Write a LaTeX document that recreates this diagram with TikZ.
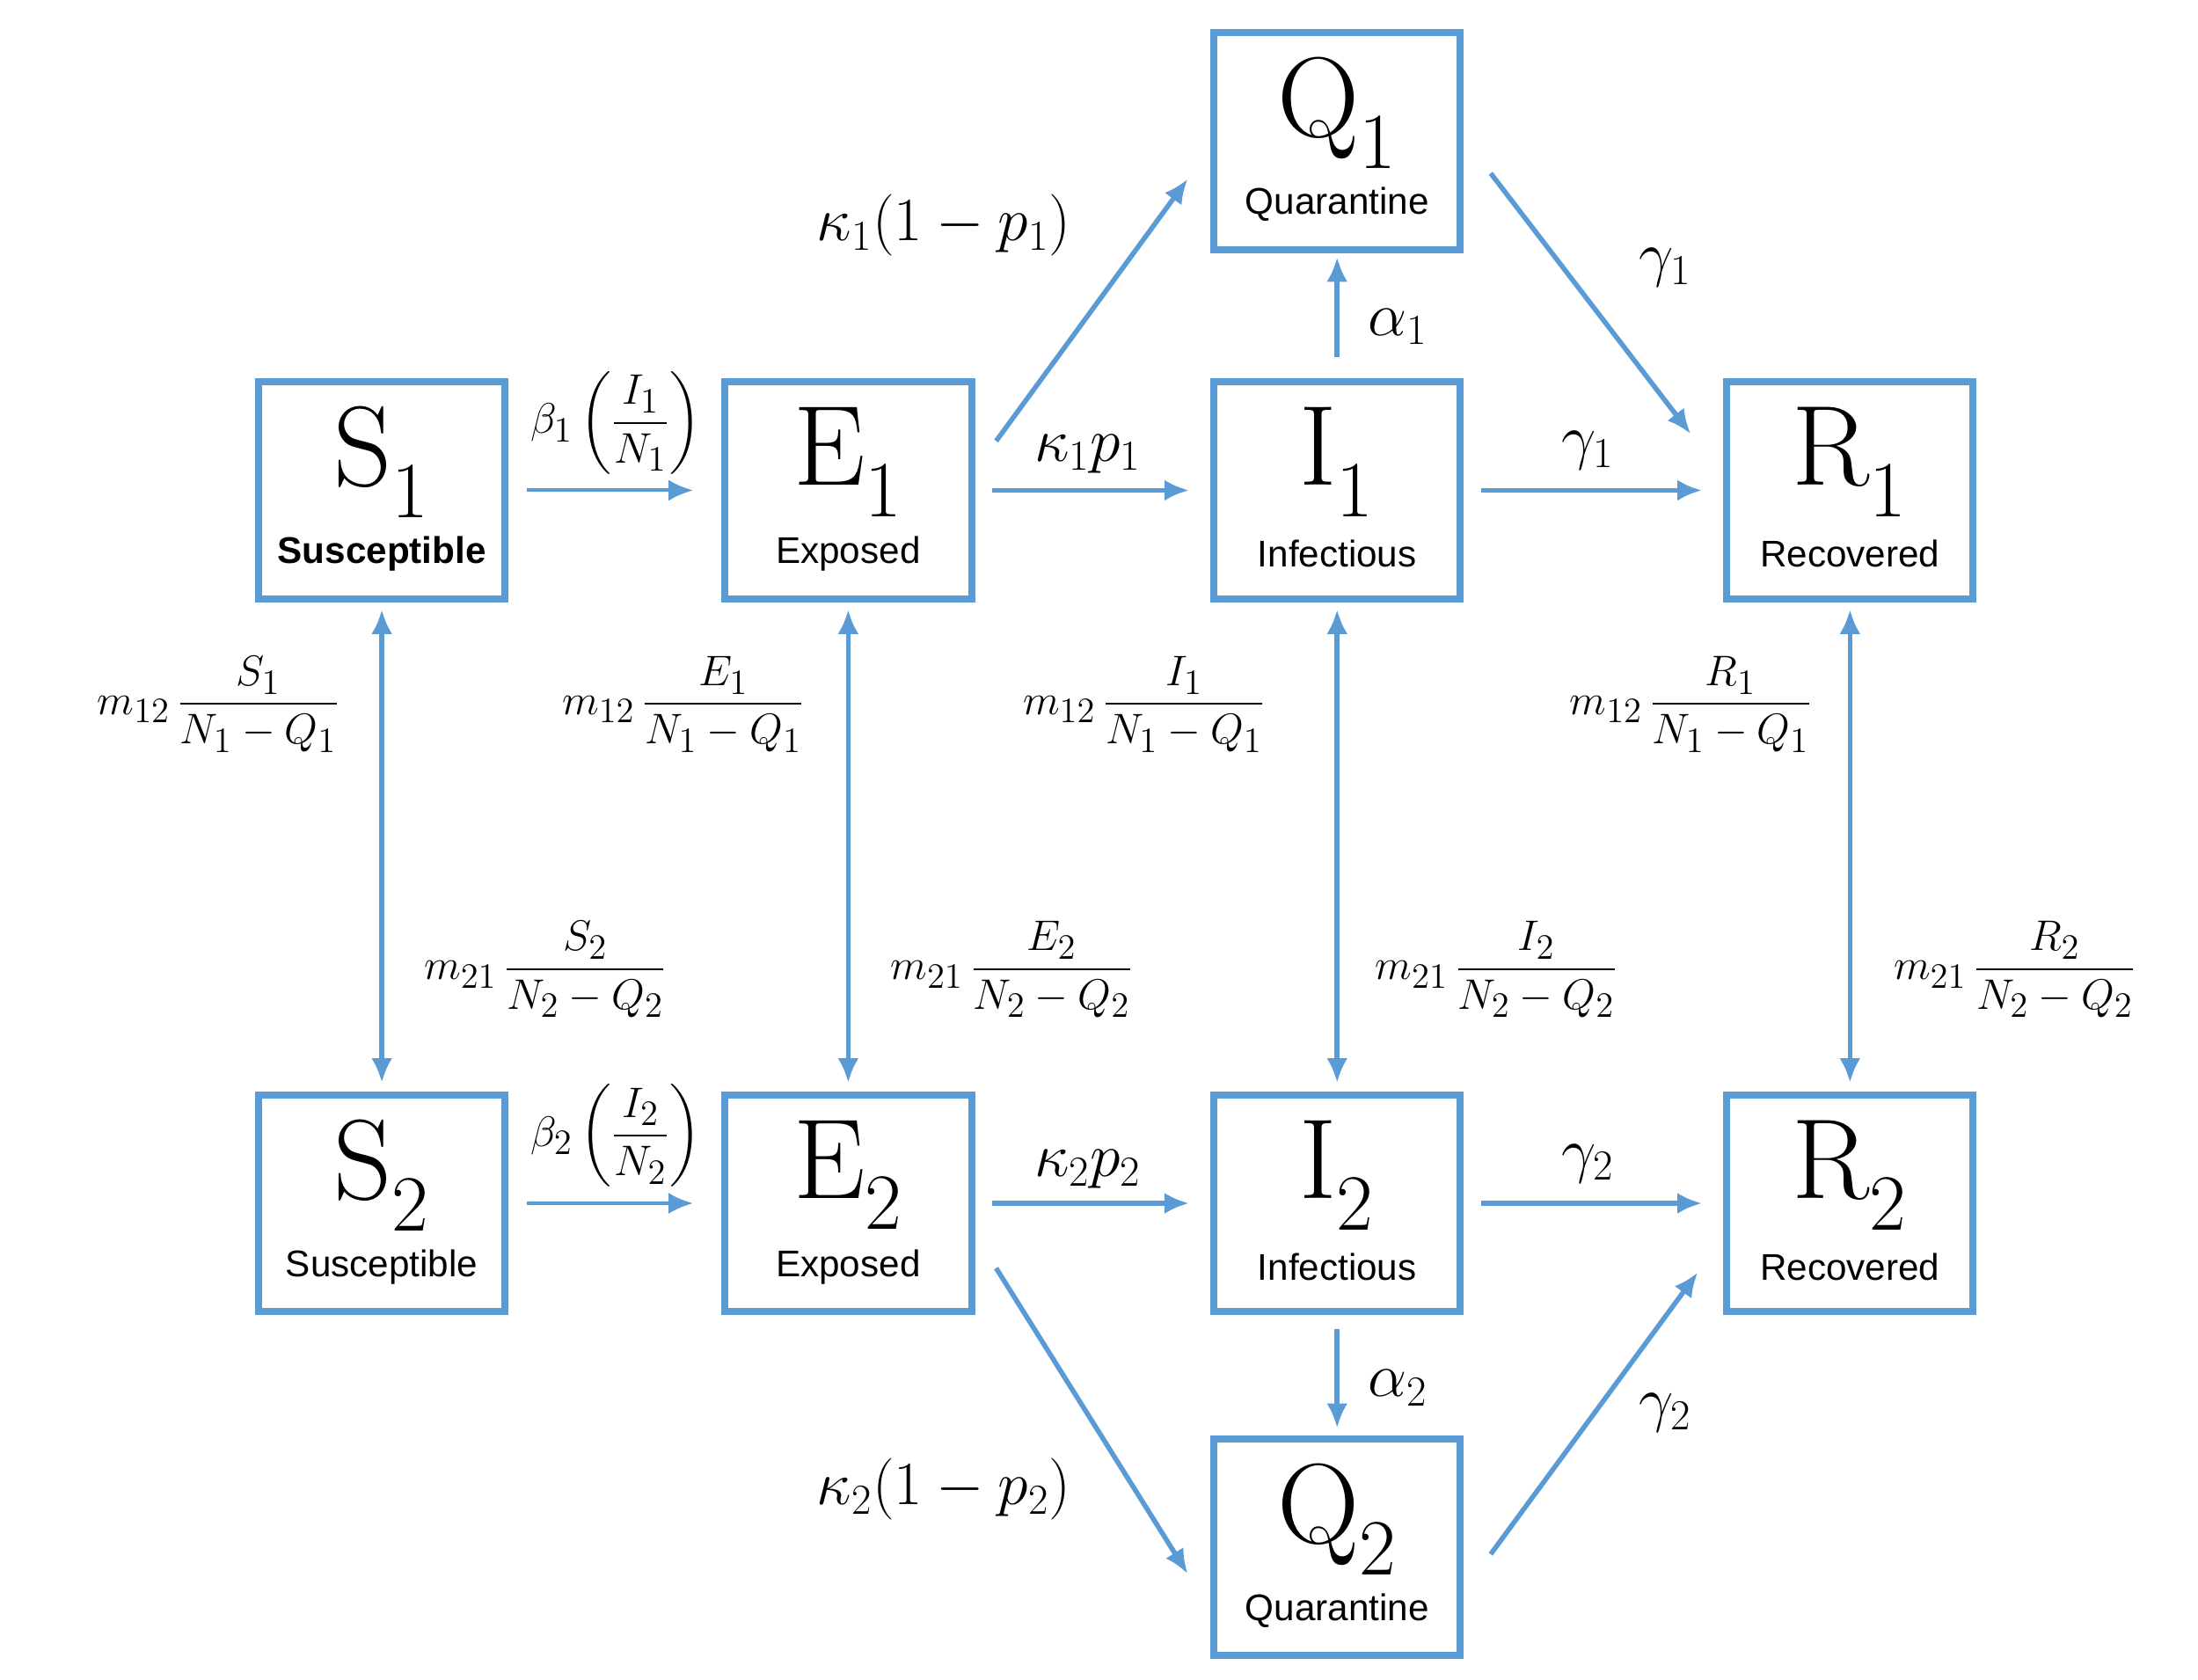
\documentclass[tikz,border=0pt]{standalone}
\usepackage{fontspec}
\usepackage{amsmath}
\newfontfamily\sans{Liberation Sans}
\usetikzlibrary{arrows.meta}
\definecolor{bl}{RGB}{91,155,213}
\begin{document}
\begin{tikzpicture}[x=0.02cm,y=-0.02cm,
 box/.style={draw=bl,line width=0.1cm,minimum width=3.5cm,minimum height=3.08cm,inner sep=0},
 big/.style={font=\fontsize{46}{50}\selectfont},
 sub/.style={font=\sans\fontsize{15}{18}\selectfont},
 lab/.style={font=\fontsize{24}{28}\selectfont},
 frac/.style={font=\fontsize{19}{24}\selectfont},
 arr/.style={draw=bl,line width=0.07cm,-{Latex[length=0.35cm,width=0.3cm]}},
 thin/.style={draw=bl,line width=0.05cm,-{Latex[length=0.35cm,width=0.3cm]}},
 dbl/.style={draw=bl,line width=0.07cm,{Latex[length=0.35cm,width=0.3cm]}-{Latex[length=0.35cm,width=0.3cm]}}]
\useasboundingbox (0,0) rectangle (1560,1192);
\foreach \n/\x/\y in {S1/271/348,E1/602/348,I1/949/348,R1/1313/348,Q1/949/100,S2/271/854,E2/602/854,I2/949/854,R2/1313/854,Q2/949/1098}
  \node[box] (\n) at (\x,\y) {};
\foreach \n/\t/\s in {S1/S_1/{\bfseries Susceptible},E1/E_1/Exposed,I1/I_1/Infectious,R1/R_1/Recovered,Q1/Q_1/Quarantine,S2/S_2/Susceptible,E2/E_2/Exposed,I2/I_2/Infectious,R2/R_2/Recovered,Q2/Q_2/Quarantine}{
  \node[big] (\n t) at ([yshift=0.4cm]\n.center) {$\mathrm{\t}$};
  \node[sub] (\n s) at ([yshift=-0.9cm]\n.center) {\s};
}
% horizontal
\foreach \a/\b in {S1/E1,S2/E2}
  \draw[thin,shorten <=0.26cm,shorten >=0.4cm] (\a) -- (\b);
\foreach \a/\b in {E1/I1,I1/R1,E2/I2,I2/R2}
  \draw[arr,shorten <=0.24cm,shorten >=0.3cm] (\a) -- (\b);
% vertical double
\foreach \a/\b in {S1/S2,E1/E2,I1/I2,R1/R2}
  \draw[dbl,shorten <=0.1cm,shorten >=0.12cm] (\a) -- (\b);
\draw[arr,shorten <=0.3cm,shorten >=0.06cm] (I1) -- (Q1);
\draw[arr,shorten <=0.2cm,shorten >=0.1cm] (I2) -- (Q2);
% diagonals
\coordinate (a1) at (707,313); \coordinate (a2) at (843,127);
\coordinate (b1) at (1058,123); \coordinate (b2) at (1200,308);
\coordinate (c1) at (707,900); \coordinate (c2) at (843,1117);
\coordinate (d1) at (1058,1103); \coordinate (d2) at (1205,903);
\draw[arr] (a1) -- (a2); \draw[arr] (b1) -- (b2);
\draw[arr] (c1) -- (c2); \draw[arr] (d1) -- (d2);
% labels
\node[frac] (l1) at (437,300) {$\beta_1\left(\dfrac{I_1}{N_1}\right)$};
\node[frac] (l2) at (437,806) {$\beta_2\left(\dfrac{I_2}{N_2}\right)$};
\node[lab] (l3) at (772,322) {$\kappa_1p_1$};
\node[lab] (l4) at (772,830) {$\kappa_2p_2$};
\node[lab] (l5) at (1127,320) {$\gamma_1$};
\node[lab] (l6) at (1127,826) {$\gamma_2$};
\node[lab] (l7) at (992,232) {$\alpha_1$};
\node[lab] (l8) at (992,985) {$\alpha_2$};
\node[lab] (l9) at (670,160) {$\kappa_1(1-p_1)$};
\node[lab] (l10) at (670,1057) {$\kappa_2(1-p_2)$};
\node[lab] (l11) at (1182,190) {$\gamma_1$};
\node[lab] (l12) at (1182,1003) {$\gamma_2$};
\foreach \v/\x in {S/155,E/485,I/812,R/1200}
  \node[frac] at (\x,500) {$m_{12}\,\dfrac{\v_1}{N_1-Q_1}$};
\foreach \v/\x in {S/387,E/718,I/1062,R/1430}
  \node[frac] at (\x,688) {$m_{21}\,\dfrac{\v_2}{N_2-Q_2}$};
\end{tikzpicture}
\end{document}
